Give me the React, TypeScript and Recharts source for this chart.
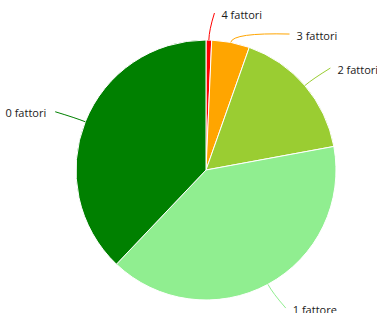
import React from 'react';
import { PieChart, Pie, Cell } from 'recharts';

const categories = ['4 fattori', '3 fattori', '2 fattori', '1 fattore', '0 fattori'];
const values = [0.7, 4.7, 16.7, 40.0, 37.9];
const colors = ['#ff0000', '#ffa500', '#9acd32', '#90ee90', '#008000'];

const data = categories.map((name, i) => ({ name, value: values[i] }));

const CX = 206;
const CY = 170;
const R = 130;
const LABEL_R = 157;
const LINE_H = 21;
const RAD = Math.PI / 180;

function computeLabels() {
  const total = values.reduce((a, b) => a + b, 0);
  let acc = 0;
  const items = values.map((v, i) => {
    const startA = (acc / total) * 360;
    acc += v;
    const endA = (acc / total) * 360;
    const a = ((startA + endA) / 2) * RAD; // clockwise from top
    const right = Math.sin(a) >= 0;
    const ex = CX + R * Math.sin(a);
    const ey = CY - R * Math.cos(a);
    const y = CY - LABEL_R * Math.cos(a);
    return { i, a, right, ex, ey, y };
  });
  [true, false].forEach((side) => {
    const group = items.filter((it) => it.right === side).sort((p, q) => p.y - q.y);
    for (let k = 1; k < group.length; k++) {
      if (group[k].y < group[k - 1].y + LINE_H) group[k].y = group[k - 1].y + LINE_H;
    }
  });
  return items.map((it) => {
    const dy = Math.min(Math.abs(it.y - CY), LABEL_R);
    const dx = Math.sqrt(LABEL_R * LABEL_R - dy * dy) + 5;
    const x = it.right ? CX + dx : CX - dx;
    const cxp = CX + (R + 10) * Math.sin(it.a);
    const cyp = CY - (R + 10) * Math.cos(it.a);
    return { ...it, x, cxp, cyp };
  });
}

const labels = computeLabels();

const renderLabel = (props: any) => {
  const idx = props.index;
  const l = labels[idx];
  if (!l) return null;
  const tx = l.right ? l.x + 7 : l.x - 9;
  return (
    <g key={'lbl' + idx}>
      <path
        d={`M${l.ex},${l.ey} Q${l.cxp},${l.cyp} ${l.x},${l.y}`}
        stroke={colors[idx]}
        fill="none"
        strokeWidth={1}
      />
      <text
        x={tx}
        y={l.y + 1}
        textAnchor={l.right ? 'start' : 'end'}
        dominantBaseline="central"
        fill="#1a1a1a"
        fontSize={11}
        fontFamily="Open Sans, sans-serif"
      >
        {categories[idx]}
      </text>
    </g>
  );
};

export default function App() {
  return (
    <div style={{ position: 'absolute', left: 0, top: 0, width: 377, height: 313, background: '#fff' }}>
      <PieChart width={377} height={313} margin={{ top: 0, right: 0, bottom: 0, left: 0 }}>
        <Pie
          data={data}
          dataKey="value"
          nameKey="name"
          cx={CX}
          cy={CY}
          outerRadius={R}
          startAngle={90}
          endAngle={-270}
          stroke="#ffffff"
          strokeWidth={1}
          label={renderLabel}
          labelLine={false}
          isAnimationActive={false}
        >
          {data.map((d, i) => (
            <Cell key={d.name} fill={colors[i]} />
          ))}
        </Pie>
      </PieChart>
    </div>
  );
}
